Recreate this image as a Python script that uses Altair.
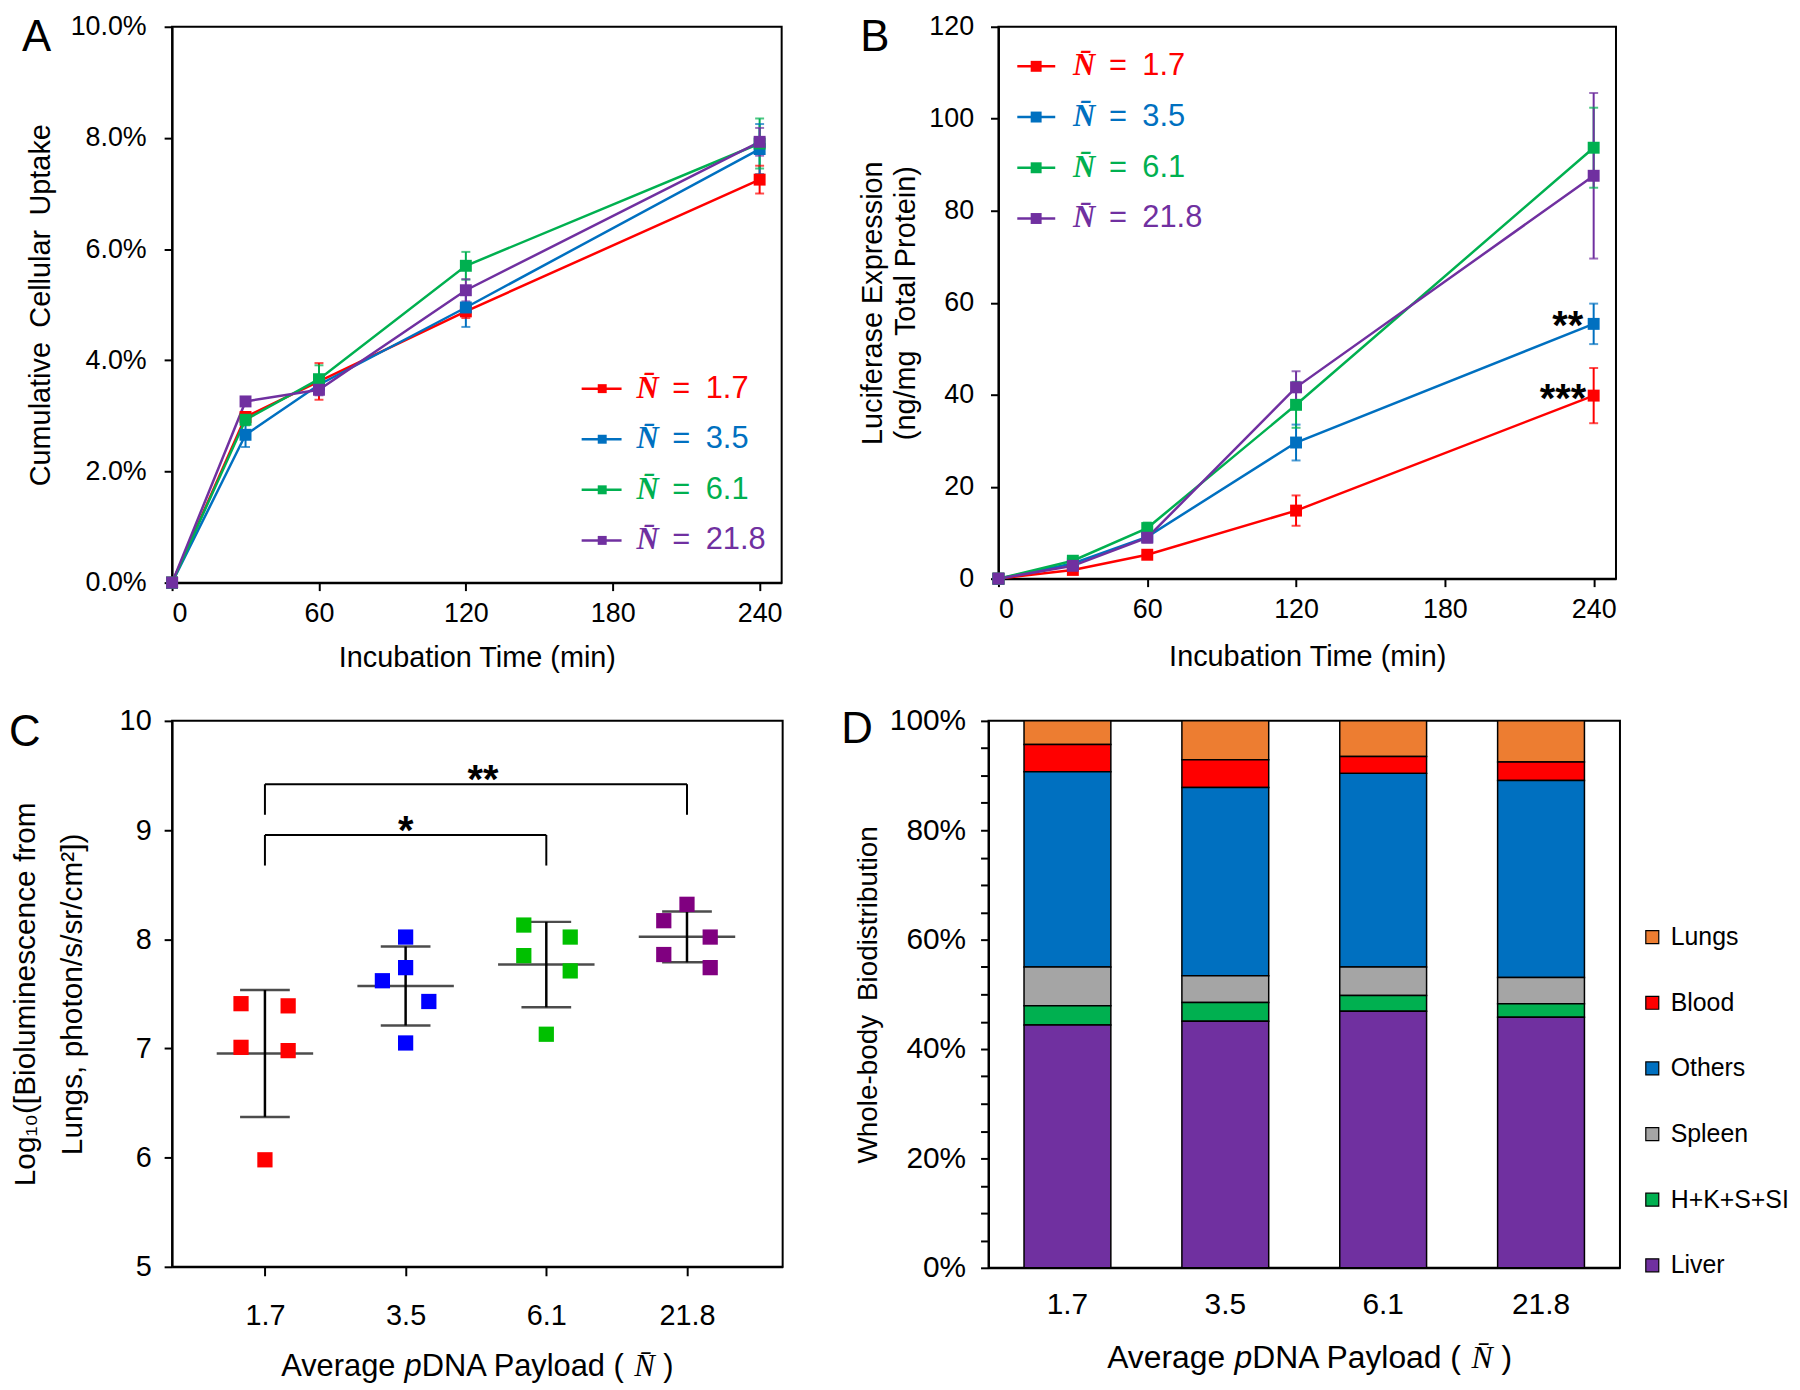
import json
import altair as alt
import pandas as pd

FONT = "Liberation Sans"
SERIF = "Liberation Serif"

# ---------------- shared categories ----------------
SERIES = ["1.7", "3.5", "6.1", "21.8"]
LINE_COLORS = ["#FF0000", "#0070C0", "#00B050", "#7030A0"]
DOT_COLORS = ["#FF0000", "#0000FF", "#00C000", "#800080"]

# ---------------- panel A : cumulative cellular uptake (%) ----------------
TIME_MIN = [0, 30, 60, 120, 240]
TIME_TICKS = [0, 60, 120, 180, 240]
UPTAKE_17 = [0.00, 2.98, 3.62, 4.88, 7.25]
UPTAKE_35 = [0.00, 2.66, 3.56, 4.95, 7.80]
UPTAKE_61 = [0.00, 2.93, 3.66, 5.70, 7.90]
UPTAKE_218 = [0.00, 3.26, 3.47, 5.26, 7.93]
UPTAKE_ERR_17 = [0.00, 0.08, 0.33, 0.12, 0.25]
UPTAKE_ERR_35 = [0.00, 0.22, 0.12, 0.35, 0.45]
UPTAKE_ERR_61 = [0.00, 0.10, 0.25, 0.25, 0.45]
UPTAKE_ERR_218 = [0.00, 0.08, 0.10, 0.20, 0.25]

# ---------------- panel B : luciferase expression ----------------
LUC_17 = [0.0, 1.9, 5.2, 14.8, 39.8]
LUC_35 = [0.0, 3.3, 9.1, 29.6, 55.4]
LUC_61 = [0.0, 3.9, 11.0, 37.8, 93.7]
LUC_218 = [0.0, 2.8, 8.9, 41.6, 87.6]
LUC_ERR_17 = [0.0, 0.4, 0.8, 3.3, 6.0]
LUC_ERR_35 = [0.0, 0.5, 1.0, 3.9, 4.4]
LUC_ERR_61 = [0.0, 0.5, 1.2, 5.0, 8.7]
LUC_ERR_218 = [0.0, 0.5, 1.0, 3.5, 18.0]
SIG_B_TEXT = ["**", "***"]
SIG_B_TIME = [235.8, 237.0]
SIG_B_Y = [57.1, 41.3]

# ---------------- panel C : lung bioluminescence ----------------
BIO_17 = [7.41, 7.39, 7.01, 6.98, 5.98]
BIO_35 = [8.02, 7.74, 7.62, 7.43, 7.05]
BIO_61 = [8.13, 8.02, 7.85, 7.71, 7.13]
BIO_218 = [8.32, 8.17, 8.02, 7.86, 7.74]
BIO_JIT_17 = [-0.17, 0.165, -0.17, 0.165, 0.0]
BIO_JIT_35 = [0.0, 0.0, -0.165, 0.165, 0.0]
BIO_JIT_61 = [-0.16, 0.17, -0.16, 0.17, 0.0]
BIO_JIT_218 = [0.0, -0.165, 0.165, -0.165, 0.165]
SIG_C_FROM = [1, 1]
SIG_C_TO = [3, 4]
SIG_C_Y = [8.955, 9.42]
SIG_C_TEXT = ["*", "**"]
SIG_C_TEXT_X = [2.0, 2.55]

# ---------------- panel D : whole-body biodistribution (%) ----------------
ORGANS = ["Lungs", "Blood", "Others", "Spleen", "H+K+S+SI", "Liver"]
ORGAN_COLORS = ["#ED7D31", "#FF0000", "#0070C0", "#A5A5A5", "#00B050", "#7030A0"]
D_LUNGS = [4.3, 7.1, 6.5, 7.5]
D_BLOOD = [5.0, 5.1, 3.1, 3.4]
D_OTHERS = [35.7, 34.4, 35.4, 36.0]
D_SPLEEN = [7.1, 4.9, 5.2, 4.8]
D_HKSSI = [3.5, 3.4, 2.9, 2.5]
D_LIVER = [44.4, 45.1, 46.9, 45.8]


# ======================================================================
def long_frame(values, errors, scale):
    rows = []
    for s, vals, errs in zip(SERIES, values, errors):
        for t, v, e in zip(TIME_MIN, vals, errs):
            rows.append({"series": s, "time": t, "value": v * scale,
                         "lo": (v - e) * scale, "hi": (v + e) * scale, "err": e})
    return pd.DataFrame(rows)


def letter_layer(letter, x, y):
    return alt.Chart(pd.DataFrame({"t": [letter]})).mark_text(
        align="left", baseline="alphabetic", font=FONT, fontSize=44, color="black"
    ).encode(text="t:N", x=alt.value(x), y=alt.value(y))


PAY_PARTS = [
    ("Average", 3.724, FONT, "normal"),
    (None, 0.278, None, None),
    ("p", 0.556, FONT, "italic"),
    ("DNA Payload (", 6.613, FONT, "normal"),
    (None, 0.278, None, None),
    ("N\u0304", 0.667, SERIF, "italic"),
    (None, 0.278, None, None),
    (")", 0.333, FONT, "normal"),
]


def payload_title(center_x, baseline_y, size):
    total = sum(p[1] for p in PAY_PARTS) * size
    x = center_x - total / 2
    layers = []
    for text, em, font, style in PAY_PARTS:
        if text is not None:
            layers.append(
                alt.Chart(pd.DataFrame({"t": [text]})).mark_text(
                    align="left", baseline="alphabetic", font=font, fontStyle=style,
                    fontSize=size, color="black"
                ).encode(text="t:N", x=alt.value(x), y=alt.value(baseline_y))
            )
        x += em * size
    return layers


def time_panel(df, ydom, yticks, yfmt, ytitle, ytp, ylp, xlp, xtp, width, height,
               leg, letter, letter_xy, sig=None):
    xsc = alt.Scale(domain=[0, 249], nice=False, zero=False)
    ysc = alt.Scale(domain=ydom, nice=False, zero=False)
    xax = alt.Axis(values=TIME_TICKS, title="Incubation Time (min)", labelFontSize=27,
                   titleFontSize=29, labelPadding=xlp, titlePadding=xtp, tickSize=8)
    yax = alt.Axis(values=yticks, format=yfmt, title=ytitle, labelFontSize=27,
                   titleFontSize=29, titleLineHeight=34, labelPadding=ylp,
                   titlePadding=ytp, tickSize=8)

    def X(f):
        return alt.X(f, type="quantitative", scale=xsc, axis=xax)

    def Y(f):
        return alt.Y(f, type="quantitative", scale=ysc, axis=yax)

    color = alt.Color("series:N", scale=alt.Scale(domain=SERIES, range=LINE_COLORS), legend=None)
    base = alt.Chart(df)
    lines = base.mark_line(strokeWidth=2.5).encode(x=X("time"), y=Y("value"), color=color)
    ebars = base.transform_filter("datum.err > 0").mark_rule(strokeWidth=2).encode(
        x=X("time"), y=Y("lo"), y2="hi", color=color)
    caps = base.transform_filter("datum.err > 0").transform_fold(
        ["lo", "hi"], as_=["end", "endv"]
    ).mark_tick(orient="horizontal", size=9, thickness=2).encode(
        x=X("time"), y=Y("endv"), color=color)
    pts = base.mark_square(size=144, opacity=1).encode(x=X("time"), y=Y("value"), color=color)

    leg_df = pd.DataFrame({"series": SERIES, "row": list(range(len(SERIES))),
                           "lab": ["=\u2002" + s for s in SERIES]})
    lbase = alt.Chart(leg_df).transform_calculate(
        ly=f"{leg['y0']} - datum.row * {leg['step']}",
        lx1=f"{leg['x1']}", lx2=f"{leg['x2']}", lxs=f"{leg['xs']}", lxt=f"{leg['xt']}")
    l_rule = lbase.mark_rule(strokeWidth=2.5).encode(x=X("lx1"), x2="lx2", y=Y("ly"), color=color)
    l_sq = lbase.mark_square(size=leg["sq"], opacity=1).encode(x=X("lxs"), y=Y("ly"), color=color)
    l_n = lbase.mark_text(align="left", baseline="middle", font=SERIF, fontStyle="italic",
                          fontWeight="bold", fontSize=31).encode(
        x=X("lxt"), y=Y("ly"), text=alt.value("N\u0304"), color=color)
    l_v = lbase.mark_text(align="left", baseline="middle", font=FONT, fontSize=31, dx=36).encode(
        x=X("lxt"), y=Y("ly"), text="lab:N", color=color)

    layers = [lines, ebars, caps, pts, l_rule, l_sq, l_n, l_v]
    if sig is not None:
        sdf = pd.DataFrame({"t": sig[0], "time": sig[1], "y": sig[2]})
        layers.append(alt.Chart(sdf).mark_text(
            align="right", baseline="alphabetic", dy=23, font=FONT, fontSize=40,
            fontWeight="bold", color="black").encode(x=X("time"), y=Y("y"), text="t:N"))
    layers.append(letter_layer(letter, *letter_xy))
    return alt.layer(*layers).properties(width=width, height=height)


# ---------------- Panel A ----------------
dfA = long_frame([UPTAKE_17, UPTAKE_35, UPTAKE_61, UPTAKE_218],
                 [UPTAKE_ERR_17, UPTAKE_ERR_35, UPTAKE_ERR_61, UPTAKE_ERR_218], 0.01)
chartA = time_panel(
    dfA, [0, 0.10], [0, 0.02, 0.04, 0.06, 0.08, 0.10], ".1%",
    "Cumulative\u2002Cellular\u2002Uptake", 15, 18, 10, 17, 613, 559,
    {"x1": 167.3, "x2": 183.6, "xs": 175.7, "xt": 189.7, "y0": 0.0349, "step": 0.0091, "sq": 81},
    "A", (-151, 24))

# ---------------- Panel B ----------------
dfB = long_frame([LUC_17, LUC_35, LUC_61, LUC_218],
                 [LUC_ERR_17, LUC_ERR_35, LUC_ERR_61, LUC_ERR_218], 1.0)
chartB = time_panel(
    dfB, [0, 120], [0, 20, 40, 60, 80, 100, 120], "d",
    ["Luciferase Expression", "(ng/mg\u2002Total Protein)"], 8, 17, 10, 20, 621, 555,
    {"x1": 7.6, "x2": 22.9, "xs": 15.2, "xt": 30.1, "y0": 111.4, "step": 11.03, "sq": 121},
    "B", (-139, 24), sig=(SIG_B_TEXT, SIG_B_TIME, SIG_B_Y))

# ---------------- Panel C ----------------
rowsC = []
for cat, (s, vals, jit) in enumerate(zip(SERIES, [BIO_17, BIO_35, BIO_61, BIO_218],
                                         [BIO_JIT_17, BIO_JIT_35, BIO_JIT_61, BIO_JIT_218]), start=1):
    for v, j in zip(vals, jit):
        rowsC.append({"group": s, "cat": cat, "xpos": cat + j, "value": v})
dfC = pd.DataFrame(rowsC)

C_W, C_H = 614, 549
xscC = alt.Scale(domain=[0.34, 4.68], nice=False, zero=False)
yscC = alt.Scale(domain=[5, 10], nice=False, zero=False)
xaxC = alt.Axis(values=[1, 2, 3, 4], labelExpr=f"{json.dumps(SERIES)}[datum.value - 1]",
                title=None, labelFontSize=29, labelPadding=26, tickSize=9)
yaxC = alt.Axis(values=[5, 6, 7, 8, 9, 10], format="d",
                title=["Log\u2081\u2080([Bioluminescence from", "Lungs, photon/s/sr/cm\u00b2])"],
                titleFontSize=30, titleLineHeight=47, labelFontSize=29, labelPadding=13,
                titlePadding=32, tickSize=8)


def XC(f):
    return alt.X(f, type="quantitative", scale=xscC, axis=xaxC)


def YC(f):
    return alt.Y(f, type="quantitative", scale=yscC, axis=yaxC)


colorC = alt.Color("group:N", scale=alt.Scale(domain=SERIES, range=DOT_COLORS), legend=None)
stats = alt.Chart(dfC).transform_aggregate(
    m="mean(value)", sd="stdev(value)", groupby=["cat"]
).transform_calculate(lo="datum.m - datum.sd", hi="datum.m + datum.sd")
c_v = stats.mark_rule(color="black", strokeWidth=2.5).encode(x=XC("cat"), y=YC("lo"), y2="hi")
c_mean = stats.mark_tick(orient="horizontal", size=97, thickness=2.5, color="black").encode(
    x=XC("cat"), y=YC("m"))
c_caps = stats.transform_fold(["lo", "hi"], as_=["end", "endv"]).mark_tick(
    orient="horizontal", size=50, thickness=2.5, color="black").encode(x=XC("cat"), y=YC("endv"))
c_pts = alt.Chart(dfC).mark_square(size=235, opacity=1).encode(
    x=XC("xpos"), y=YC("value"), color=colorC)

dfBr = pd.DataFrame({"x1": SIG_C_FROM, "x2": SIG_C_TO, "y": SIG_C_Y,
                     "t": SIG_C_TEXT, "tx": SIG_C_TEXT_X})
br = alt.Chart(dfBr).transform_calculate(yd="datum.y - 0.28", ty="datum.y + 0.13")
br_h = br.mark_rule(color="black", strokeWidth=2).encode(x=XC("x1"), x2="x2", y=YC("y"))
br_l = br.mark_rule(color="black", strokeWidth=2).encode(x=XC("x1"), y=YC("y"), y2="yd")
br_r = br.mark_rule(color="black", strokeWidth=2).encode(x=XC("x2"), y=YC("y"), y2="yd")
br_t = br.mark_text(align="center", baseline="alphabetic", dy=23, font=FONT, fontSize=40,
                    fontWeight="bold", color="black").encode(x=XC("tx"), y=YC("ty"), text="t:N")

chartC = alt.layer(
    c_v, c_mean, c_caps, c_pts, br_h, br_l, br_r, br_t,
    *payload_title(C_W / 2, C_H + 110, 31),
    letter_layer("C", -164, 25),
).properties(width=C_W, height=C_H)

# ---------------- Panel D ----------------
rowsD = []
for i, s in enumerate(SERIES):
    for organ, vals, rank in zip(ORGANS, [D_LUNGS, D_BLOOD, D_OTHERS, D_SPLEEN, D_HKSSI, D_LIVER],
                                 [5, 4, 3, 2, 1, 0]):
        rowsD.append({"cat": s, "organ": organ, "value": vals[i] / 100.0, "rank": rank})
dfD = pd.DataFrame(rowsD)

D_W, D_H = 635, 550
bars = alt.Chart(dfD).mark_bar(stroke="black", strokeWidth=1.5).encode(
    x=alt.X("cat:N", sort=SERIES,
            scale=alt.Scale(paddingInner=0.45, paddingOuter=0.225),
            axis=alt.Axis(title=None, labelAngle=0, ticks=False, tickSize=0,
                          labelFontSize=30, labelPadding=22)),
    y=alt.Y("value:Q", stack="zero", scale=alt.Scale(domain=[0, 1], nice=False),
            axis=alt.Axis(values=[i * 0.05 for i in range(21)],
                          labelExpr="round(datum.value * 100) % 20 == 0 ? format(datum.value, '.0%') : ''",
                          labelOverlap=False, title="Whole-body\u2002Biodistribution",
                          titleFontSize=28, labelFontSize=30, labelPadding=15,
                          titlePadding=7, tickSize=8)),
    color=alt.Color("organ:N", scale=alt.Scale(domain=ORGANS, range=ORGAN_COLORS),
                    legend=alt.Legend(orient="none", legendX=655, legendY=205, title=None,
                                      symbolType="square", symbolSize=170,
                                      symbolStrokeColor="black", symbolStrokeWidth=1.2,
                                      symbolOpacity=1, labelFontSize=25, labelFont=FONT,
                                      labelColor="black", rowPadding=40, labelOffset=6,
                                      padding=0)),
    order=alt.Order("rank:Q", sort="ascending"),
)
chartD = alt.layer(
    bars,
    *payload_title(323, D_H + 101, 32),
    letter_layer("D", -148, 22),
).properties(width=D_W, height=D_H)

# ---------------- assemble ----------------
top = alt.hconcat(chartA, chartB, spacing=218, bounds="flush").resolve_scale(color="independent")
bottom = alt.hconcat(chartC, chartD, spacing=207, bounds="flush").resolve_scale(color="independent")
chart = alt.vconcat(top, bottom, spacing=698, bounds="flush").resolve_scale(color="independent")
chart = chart.properties(
    padding={"left": 0, "top": 0, "right": 2, "bottom": 0}, background="white"
).configure_view(stroke="black", strokeWidth=2).configure_axis(
    domainColor="black", domainWidth=2, tickColor="black", tickWidth=2,
    labelColor="black", titleColor="black", labelFont=FONT, titleFont=FONT,
    titleFontWeight="normal", grid=False
)

chart.save("out.html", embed_options={"renderer": "svg", "actions": False})
